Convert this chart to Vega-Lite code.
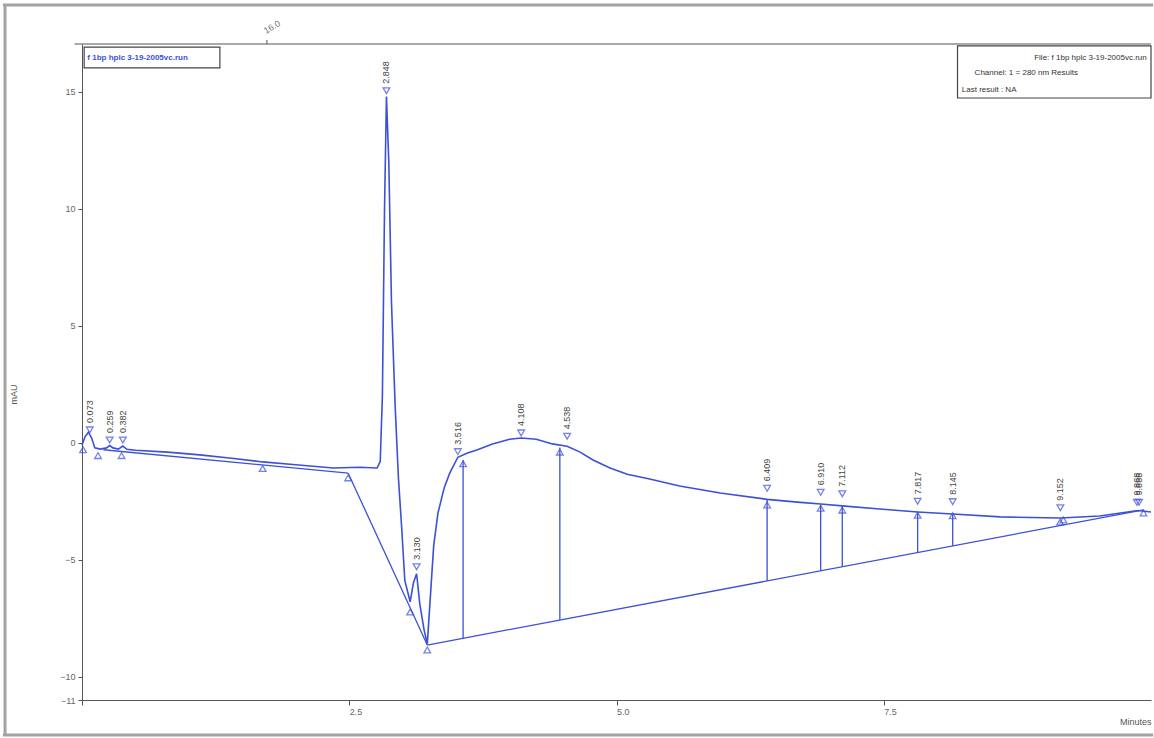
{
  "$schema": "https://vega.github.io/schema/vega-lite/v6.json",
  "width": 1069,
  "height": 656,
  "autosize": {"type": "none"},
  "padding": {"left": 82, "top": 44, "right": 3, "bottom": 38},
  "background": "white",
  "config": {"view": {"stroke": null}, "font": "Liberation Sans"},
  "datasets": {
    "frameH": [{"x": -0.74, "x2": 10.02, "y": 18.72}, {"x": -0.74, "x2": 10.02, "y": -12.5}],
    "frameV": [{"x": -0.72, "y": 18.72, "y2": -12.5}],
    "topline": [{"x": -0.07, "x2": 10.0, "y": 17.05}],
    "toptick": [{"x": 1.73, "y": 17.05, "y2": 17.22}],
    "toplabel": [{"x": 1.73, "y": 17.4, "text": "16.0"}],
    "trace": [
      {"x": 0.0, "y": -0.1}, {"x": 0.028, "y": 0.25}, {"x": 0.06, "y": 0.45}, {"x": 0.09, "y": 0.2},
      {"x": 0.12, "y": -0.22}, {"x": 0.17, "y": -0.27}, {"x": 0.23, "y": -0.22}, {"x": 0.259, "y": -0.12},
      {"x": 0.29, "y": -0.22}, {"x": 0.34, "y": -0.27}, {"x": 0.382, "y": -0.14}, {"x": 0.42, "y": -0.28},
      {"x": 0.5, "y": -0.32}, {"x": 0.8, "y": -0.4}, {"x": 1.1, "y": -0.52}, {"x": 1.4, "y": -0.66},
      {"x": 1.69, "y": -0.82}, {"x": 2.0, "y": -0.94}, {"x": 2.35, "y": -1.08}, {"x": 2.6, "y": -1.05},
      {"x": 2.76, "y": -1.08}, {"x": 2.79, "y": -0.8}, {"x": 2.81, "y": 2.0}, {"x": 2.83, "y": 10.0},
      {"x": 2.848, "y": 14.8}, {"x": 2.87, "y": 12.0}, {"x": 2.895, "y": 6.0}, {"x": 2.93, "y": 1.5},
      {"x": 2.96, "y": -1.5}, {"x": 2.99, "y": -3.6}, {"x": 3.02, "y": -5.9}, {"x": 3.07, "y": -6.8},
      {"x": 3.1, "y": -6.0}, {"x": 3.13, "y": -5.6}, {"x": 3.16, "y": -6.9}, {"x": 3.2, "y": -8.0},
      {"x": 3.23, "y": -8.6}, {"x": 3.25, "y": -7.2}, {"x": 3.29, "y": -4.4}, {"x": 3.33, "y": -3.0},
      {"x": 3.39, "y": -1.9}, {"x": 3.44, "y": -1.3}, {"x": 3.516, "y": -0.62}, {"x": 3.6, "y": -0.45},
      {"x": 3.7, "y": -0.3}, {"x": 3.84, "y": -0.05}, {"x": 4.0, "y": 0.15}, {"x": 4.108, "y": 0.2},
      {"x": 4.25, "y": 0.15}, {"x": 4.4, "y": -0.05}, {"x": 4.538, "y": -0.15}, {"x": 4.66, "y": -0.4},
      {"x": 4.78, "y": -0.74}, {"x": 4.94, "y": -1.08}, {"x": 5.1, "y": -1.35}, {"x": 5.31, "y": -1.55},
      {"x": 5.59, "y": -1.85}, {"x": 5.97, "y": -2.15}, {"x": 6.409, "y": -2.42}, {"x": 6.72, "y": -2.55},
      {"x": 6.91, "y": -2.62}, {"x": 7.112, "y": -2.7}, {"x": 7.46, "y": -2.83}, {"x": 7.817, "y": -2.96},
      {"x": 8.145, "y": -3.05}, {"x": 8.59, "y": -3.17}, {"x": 9.152, "y": -3.22}, {"x": 9.52, "y": -3.13},
      {"x": 9.88, "y": -2.9}, {"x": 10.0, "y": -2.96}
    ],
    "base": [
      {"seg": "A", "x": 0.2, "y": -0.3}, {"seg": "A", "x": 2.49, "y": -1.3},
      {"seg": "B", "x": 2.49, "y": -1.3}, {"seg": "B", "x": 3.23, "y": -8.65},
      {"seg": "C", "x": 3.23, "y": -8.65}, {"seg": "C", "x": 9.93, "y": -2.87}
    ],
    "drops": [
      {"x": 3.565, "y": -0.75, "y2": -8.37},
      {"x": 4.47, "y": -0.2, "y2": -7.58},
      {"x": 6.409, "y": -2.45, "y2": -5.91},
      {"x": 6.91, "y": -2.65, "y2": -5.48},
      {"x": 7.112, "y": -2.72, "y2": -5.3},
      {"x": 7.817, "y": -2.98, "y2": -4.69},
      {"x": 8.145, "y": -3.07, "y2": -4.41}
    ],
    "ups": [
      {"x": 0.01, "y": -0.3}, {"x": 0.15, "y": -0.55}, {"x": 0.37, "y": -0.55}, {"x": 1.69, "y": -1.1},
      {"x": 2.49, "y": -1.5}, {"x": 3.07, "y": -7.24}, {"x": 3.23, "y": -8.86}, {"x": 3.565, "y": -0.9},
      {"x": 4.47, "y": -0.4}, {"x": 6.409, "y": -2.66}, {"x": 6.91, "y": -2.8}, {"x": 7.112, "y": -2.88},
      {"x": 7.817, "y": -3.1}, {"x": 8.145, "y": -3.12}, {"x": 9.15, "y": -3.39}, {"x": 9.18, "y": -3.3},
      {"x": 9.93, "y": -3.0}
    ],
    "peaks": [
      {"x": 0.073, "y": 0.55, "label": "0.073"},
      {"x": 0.259, "y": 0.12, "label": "0.259"},
      {"x": 0.382, "y": 0.12, "label": "0.382"},
      {"x": 2.848, "y": 15.05, "label": "2.848"},
      {"x": 3.13, "y": -5.3, "label": "3.130"},
      {"x": 3.516, "y": -0.38, "label": "3.516"},
      {"x": 4.108, "y": 0.42, "label": "4.108"},
      {"x": 4.538, "y": 0.28, "label": "4.538"},
      {"x": 6.409, "y": -1.95, "label": "6.409"},
      {"x": 6.91, "y": -2.12, "label": "6.910"},
      {"x": 7.112, "y": -2.18, "label": "7.112"},
      {"x": 7.817, "y": -2.5, "label": "7.817"},
      {"x": 8.145, "y": -2.52, "label": "8.145"},
      {"x": 9.152, "y": -2.78, "label": "9.152"},
      {"x": 9.868, "y": -2.55, "label": "9.868"},
      {"x": 9.888, "y": -2.55, "label": "9.888"}
    ],
    "boxes": [
      {"x": 0.02, "x2": 1.29, "y": 16.92, "y2": 16.03},
      {"x": 8.19, "x2": 10.0, "y": 16.97, "y2": 14.74}
    ],
    "noteBlue": [{"x": 0.05, "y": 16.47, "text": "f 1bp hplc 3-19-2005vc.run"}],
    "noteLeft": [
      {"x": 8.35, "y": 15.81, "text": "Channel: 1 = 280 nm Results"},
      {"x": 8.23, "y": 15.09, "text": "Last result : NA"}
    ],
    "noteRight": [{"x": 9.96, "y": 16.45, "text": "File: f 1bp hplc 3-19-2005vc.run"}]
  },
  "encoding": {
    "x": {"field": "x", "type": "quantitative", "scale": {"domain": [0, 10], "nice": false, "zero": false},
      "axis": {"orient": "bottom", "values": [0, 2.5, 5, 7.5], "labelExpr": "datum.value == 0 ? '' : format(datum.value, '.1f')",
        "grid": false, "labelAlign": "left", "labelFontSize": 9, "labelColor": "#666",
        "domainColor": "#555", "tickColor": "#555", "tickSize": 5,
        "title": "Minutes", "titleAnchor": "end", "titleFontSize": 9, "titleFontWeight": "normal",
        "titleColor": "#555", "titleY": 17}},
    "y": {"field": "y", "type": "quantitative", "scale": {"domain": [-11, 17.05], "nice": false, "zero": false},
      "axis": {"orient": "left", "values": [-11, -10, -5, 0, 5, 10, 15], "grid": false, "labelFontSize": 9, "labelColor": "#666",
        "domainColor": "#555", "tickColor": "#555", "tickSize": 4, "labelPadding": 3,
        "title": "mAU", "titleFontSize": 9, "titleFontWeight": "normal", "titleColor": "#555",
        "titleX": -64, "titleY": 350}}
  },
  "layer": [
    {
      "data": {"name": "frameH"},
      "mark": {"type": "rule", "color": "#a3a3a3", "strokeWidth": 3},
      "encoding": {"x2": {"field": "x2"}}
    },
    {
      "data": {"name": "frameV"},
      "mark": {"type": "rule", "color": "#a3a3a3", "strokeWidth": 3},
      "encoding": {"y2": {"field": "y2"}}
    },
    {
      "data": {"name": "topline"},
      "mark": {"type": "rule", "color": "#555", "strokeWidth": 1.2},
      "encoding": {"x2": {"field": "x2"}}
    },
    {
      "data": {"name": "toptick"},
      "mark": {"type": "rule", "color": "#555", "strokeWidth": 1},
      "encoding": {"y2": {"field": "y2"}}
    },
    {
      "data": {"name": "toplabel"},
      "mark": {"type": "text", "angle": 330, "align": "left", "baseline": "bottom", "fontSize": 9, "color": "#777"},
      "encoding": {"text": {"field": "text", "type": "nominal"}}
    },
    {
      "data": {"name": "base"},
      "mark": {"type": "line", "color": "#3c50d8", "strokeWidth": 1.3},
      "encoding": {"detail": {"field": "seg", "type": "nominal"}}
    },
    {
      "data": {"name": "drops"},
      "mark": {"type": "rule", "color": "#3c50d8", "strokeWidth": 1.3},
      "encoding": {"y2": {"field": "y2"}}
    },
    {
      "data": {"name": "trace"},
      "mark": {"type": "line", "color": "#3c50d8", "strokeWidth": 1.6},
      "encoding": {}
    },
    {
      "data": {"name": "ups"},
      "mark": {"type": "point", "shape": "triangle-up", "filled": false, "color": "#3c50d8", "size": 45, "strokeWidth": 1.3},
      "encoding": {}
    },
    {
      "data": {"name": "peaks"},
      "mark": {"type": "point", "shape": "triangle-down", "filled": false, "color": "#3c50d8", "size": 45, "strokeWidth": 1.3},
      "encoding": {}
    },
    {
      "data": {"name": "peaks"},
      "mark": {"type": "text", "angle": 270, "align": "left", "baseline": "middle", "dx": 7, "fontSize": 9, "color": "#444"},
      "encoding": {"text": {"field": "label", "type": "nominal"}}
    },
    {
      "data": {"name": "boxes"},
      "mark": {"type": "rect", "fill": "white", "stroke": "#444", "strokeWidth": 1.2},
      "encoding": {"x2": {"field": "x2"}, "y2": {"field": "y2"}}
    },
    {
      "data": {"name": "noteBlue"},
      "mark": {"type": "text", "align": "left", "baseline": "middle", "fontSize": 8, "fontWeight": "bold", "color": "#3c50d8"},
      "encoding": {"text": {"field": "text", "type": "nominal"}}
    },
    {
      "data": {"name": "noteLeft"},
      "mark": {"type": "text", "align": "left", "baseline": "middle", "fontSize": 8, "color": "#333"},
      "encoding": {"text": {"field": "text", "type": "nominal"}}
    },
    {
      "data": {"name": "noteRight"},
      "mark": {"type": "text", "align": "right", "baseline": "middle", "fontSize": 8, "color": "#333"},
      "encoding": {"text": {"field": "text", "type": "nominal"}}
    }
  ]
}
